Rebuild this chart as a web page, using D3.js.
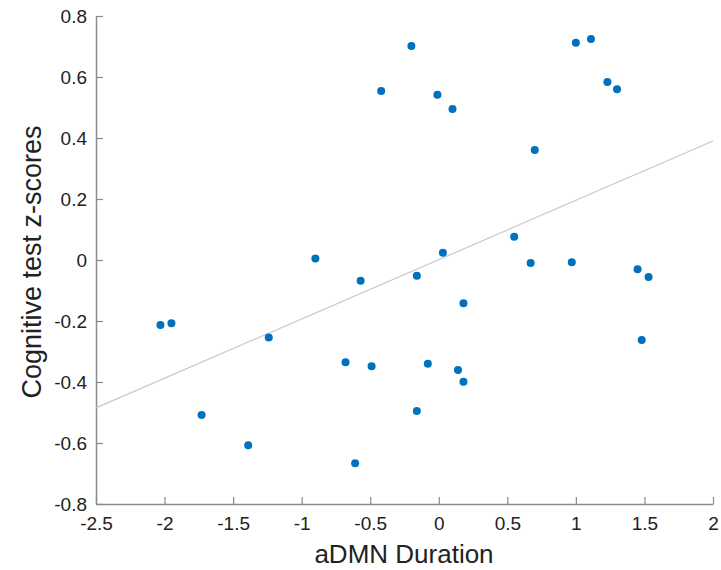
<!DOCTYPE html>
<html>
<head>
<meta charset="utf-8">
<script src="https://cdn.jsdelivr.net/npm/d3@7"></script>
<style>
  body { margin: 0; background: white; }
  svg { display: block; }
</style>
</head>
<body>
<div id="chart"></div>
<script>
// aDMN duration vs cognitive z-scores
const durations = [-2.03, -1.95, -1.73, -1.39, -1.24, -0.90, -0.68, -0.57, -0.49, -0.42,
                   -0.61, -0.20, -0.16, -0.16, -0.08, -0.01, 0.03, 0.10, 0.14, 0.18,
                   0.18, 0.55, 0.67, 0.70, 0.97, 1.00, 1.11, 1.23, 1.30, 1.45, 1.48, 1.53];
const zScores   = [-0.213, -0.207, -0.508, -0.607, -0.254, 0.005, -0.335, -0.068, -0.348, 0.554,
                   -0.666, 0.702, -0.052, -0.495, -0.340, 0.542, 0.024, 0.495, -0.361, -0.142,
                   -0.399, 0.076, -0.010, 0.361, -0.007, 0.712, 0.725, 0.584, 0.560, -0.030, -0.262, -0.056];

// fitted line endpoints
const fitX = [-2.5, 2];
const fitY = [-0.485, 0.39];

const xTicks = [-2.5, -2, -1.5, -1, -0.5, 0, 0.5, 1, 1.5, 2];
const yTicks = [-0.8, -0.6, -0.4, -0.2, 0, 0.2, 0.4, 0.6, 0.8];

const width = 721, height = 570;
const margin = { top: 16, right: 8, bottom: 66, left: 96 };

const svg = d3.select("#chart").append("svg")
    .attr("width", width)
    .attr("height", height)
    .style("font-family", "'Liberation Sans', Arial, Helvetica, sans-serif");

const x = d3.scaleLinear().domain([-2.5, 2]).range([margin.left, width - margin.right]);
const y = d3.scaleLinear().domain([-0.8, 0.8]).range([height - margin.bottom, margin.top]);

const axisColor = "#8a8a8a";
const textColor = "#222";

// bottom axis (ticks pointing inward)
const xAxis = svg.append("g")
    .attr("transform", `translate(0,${y(-0.8)})`)
    .call(d3.axisBottom(x).tickValues(xTicks).tickSizeInner(-7).tickSizeOuter(0));
xAxis.select(".domain").attr("stroke", axisColor).attr("stroke-width", 1.5);
xAxis.selectAll(".tick line").attr("stroke", axisColor).attr("stroke-width", 1.2);
xAxis.selectAll(".tick text")
    .attr("y", 13)
    .attr("fill", textColor)
    .style("font-size", "19px")
    .text(d => d < 0 ? "-" + Math.abs(d) : d);

// left axis
const yAxis = svg.append("g")
    .attr("transform", `translate(${x(-2.5)},0)`)
    .call(d3.axisLeft(y).tickValues(yTicks).tickSizeInner(-7).tickSizeOuter(0));
yAxis.select(".domain").attr("stroke", axisColor).attr("stroke-width", 1.5);
yAxis.selectAll(".tick line").attr("stroke", axisColor).attr("stroke-width", 1.2);
yAxis.selectAll(".tick text")
    .attr("x", -9)
    .attr("fill", textColor)
    .style("font-size", "19px")
    .text(d => d === 0 ? "0" : (d < 0 ? "-" : "") + Math.abs(d).toFixed(1));

// regression line
svg.append("line")
    .attr("x1", x(fitX[0])).attr("y1", y(fitY[0]))
    .attr("x2", x(fitX[1])).attr("y2", y(fitY[1]))
    .attr("stroke", "#c8c8c8")
    .attr("stroke-width", 1.2);

// points
svg.append("g").selectAll("circle")
    .data(durations.map((d, i) => ({ x: d, y: zScores[i] })))
    .enter()
    .append("circle")
    .attr("cx", d => x(d.x))
    .attr("cy", d => y(d.y))
    .attr("r", 4)
    .attr("fill", "#0072BD");

// axis labels
svg.append("text")
    .attr("x", 404)
    .attr("y", 563)
    .attr("text-anchor", "middle")
    .attr("fill", textColor)
    .style("font-size", "26px")
    .text("aDMN Duration");

svg.append("text")
    .attr("transform", `translate(41,262) rotate(-90)`)
    .attr("text-anchor", "middle")
    .attr("fill", textColor)
    .style("font-size", "27px")
    .text("Cognitive test z-scores");
</script>
</body>
</html>
